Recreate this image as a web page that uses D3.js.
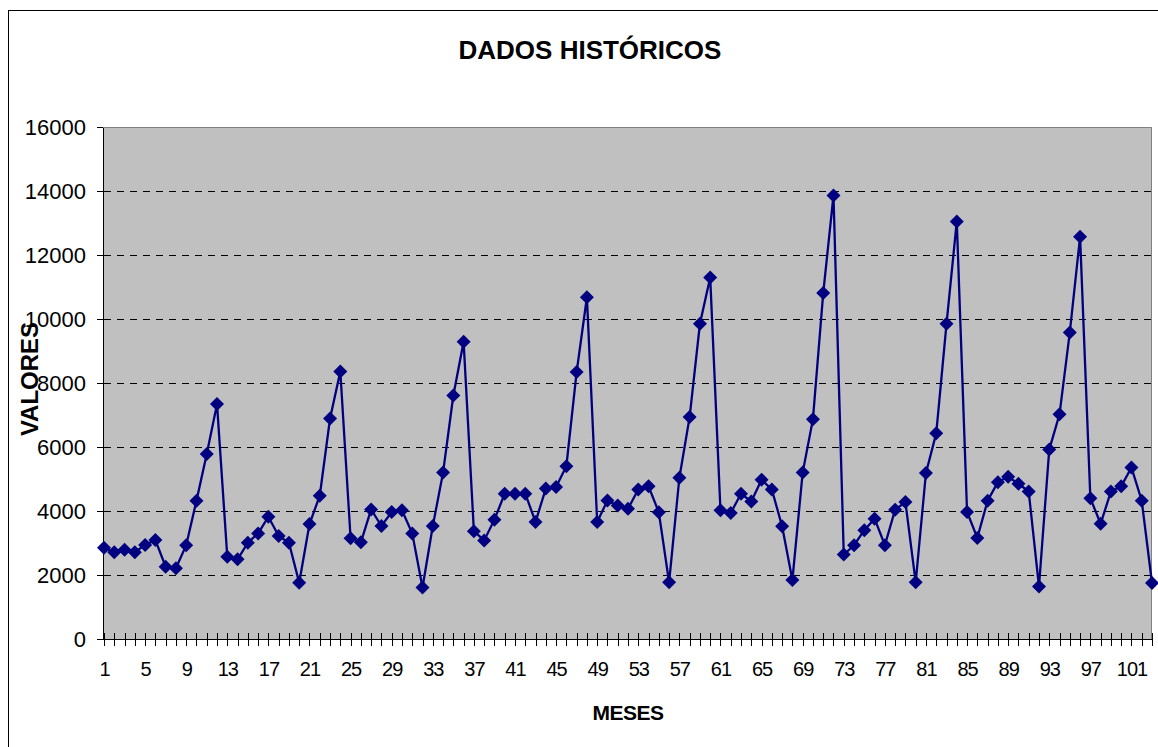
<!DOCTYPE html>
<html>
<head>
<meta charset="utf-8">
<script src="https://cdn.jsdelivr.net/npm/d3@7"></script>
<style>
  body { margin: 0; background: #fff; }
  svg { display: block; font-family: "Liberation Sans", Arial, sans-serif; }
  .axis path, .axis line { stroke: #000; shape-rendering: crispEdges; }
  .axis text { fill: #000; }
</style>
</head>
<body>
<div id="chart-area"></div>
<script>
// chart values (month 1..103)
var meses = d3.range(1, 104);
var valores = [
	2850, 2710, 2790, 2710, 2940, 3090, 2260, 2210, 2930, 4320,
	5780, 7340, 2570, 2490, 3010, 3300, 3820, 3220, 3010, 1760,
	3590, 4480, 6890, 8360, 3150, 3020, 4050, 3530, 3970, 4020,
	3300, 1610, 3530, 5200, 7610, 9290, 3370, 3080, 3730, 4540,
	4540, 4540, 3660, 4700, 4750, 5400, 8340, 10680, 3660, 4330,
	4170, 4070, 4670, 4770, 3960, 1770, 5040, 6940, 9850, 11300,
	4020, 3940, 4540, 4300, 4980, 4670, 3520, 1840, 5200, 6870,
	10810, 13860, 2640, 2930, 3400, 3760, 2930, 4040, 4280, 1770,
	5190, 6430, 9850, 13050, 3970, 3160, 4320, 4900, 5070, 4850,
	4610, 1640, 5920, 7020, 9580, 12570, 4400, 3600, 4610, 4770,
	5360, 4320, 1750
];
var yTicks = [0, 2000, 4000, 6000, 8000, 10000, 12000, 14000, 16000];
var xLabelEvery = 4;

var width = 1158,
	height = 747;

var margin = {top: 127, right: 6, bottom: 108, left: 104};
var plotW = width - margin.left - margin.right,
	plotH = height - margin.top - margin.bottom;

var svg = d3.select("#chart-area").append("svg")
	.attr("width", width)
	.attr("height", height);

// outer chart frame
svg.append("rect")
	.attr("x", 8.5).attr("y", 10.5)
	.attr("width", width + 20).attr("height", height + 20)
	.attr("fill", "#fff")
	.attr("stroke", "#000");

var g = svg.append("g")
	.attr("transform", "translate(" + margin.left + "," + margin.top + ")");

var x = d3.scalePoint()
	.domain(meses)
	.range([0, plotW]);

var y = d3.scaleLinear()
	.domain([0, 16000])
	.range([plotH, 0]);

// plot area
g.append("rect")
	.attr("x", -1).attr("y", 0)
	.attr("width", plotW + 1).attr("height", plotH)
	.attr("fill", "#c0c0c0");

// dashed gridlines
g.selectAll(".grid")
	.data(yTicks.filter(d => d > 0 && d < 16000))
	.enter().append("line")
	.attr("class", "grid")
	.attr("x1", 0).attr("x2", plotW)
	.attr("y1", d => Math.round(y(d)) + 0.5)
	.attr("y2", d => Math.round(y(d)) + 0.5)
	.attr("stroke", "#000")
	.attr("stroke-dasharray", "7,6");

// plot border top/right
g.append("path")
	.attr("d", "M-1,0.5H" + (plotW - 0.5) + "V" + plotH)
	.attr("fill", "none")
	.attr("stroke", "#808080");

// y axis
var yAxis = d3.axisLeft(y)
	.tickValues(yTicks)
	.tickFormat(d3.format("d"))
	.tickSizeInner(6)
	.tickSizeOuter(0)
	.tickPadding(11);

var yAxisGroup = g.append("g")
	.attr("class", "y-axis axis")
	.attr("transform", "translate(-1,0)")
	.call(yAxis);
yAxisGroup.selectAll("text")
	.style("font-size", "22px");

// x axis
var xAxis = d3.axisBottom(x)
	.tickSizeInner(7)
	.tickSizeOuter(0)
	.tickPadding(16)
	.tickFormat(d => ((d - 1) % xLabelEvery === 0) ? d : "");

var xAxisGroup = g.append("g")
	.attr("class", "x-axis axis")
	.attr("transform", "translate(0," + plotH + ")")
	.call(xAxis);
xAxisGroup.select(".domain").attr("d", "M-7,0.5H" + plotW);
xAxisGroup.selectAll(".tick line").attr("y1", -6).attr("y2", 7);
xAxisGroup.selectAll("text")
	.style("font-size", "20px")
	.style("letter-spacing", "-1px");

// series line
var line = d3.line()
	.x((d, i) => x(meses[i]))
	.y(d => y(d));

g.append("path")
	.datum(valores)
	.attr("fill", "none")
	.attr("stroke", "#000080")
	.attr("stroke-width", 2.3)
	.attr("d", line);

// diamond markers
g.selectAll(".marker")
	.data(valores)
	.enter().append("path")
	.attr("class", "marker")
	.attr("d", "M0,-7L7,0L0,7L-7,0Z")
	.attr("transform", (d, i) => "translate(" + x(meses[i]) + "," + y(d) + ")")
	.attr("fill", "#000080");

// titles
svg.append("text")
	.attr("x", 590).attr("y", 59)
	.attr("text-anchor", "middle")
	.style("font-size", "26px")
	.style("font-weight", "bold")
	.text("DADOS HISTÓRICOS");

svg.append("text")
	.attr("x", 628).attr("y", 720)
	.attr("text-anchor", "middle")
	.style("font-size", "21px")
	.style("font-weight", "bold")
	.style("letter-spacing", "-0.5px")
	.text("MESES");

svg.append("text")
	.attr("transform", "translate(38,379) rotate(-90)")
	.attr("text-anchor", "middle")
	.style("font-size", "24px")
	.style("font-weight", "bold")
	.text("VALORES");
</script>
</body>
</html>
